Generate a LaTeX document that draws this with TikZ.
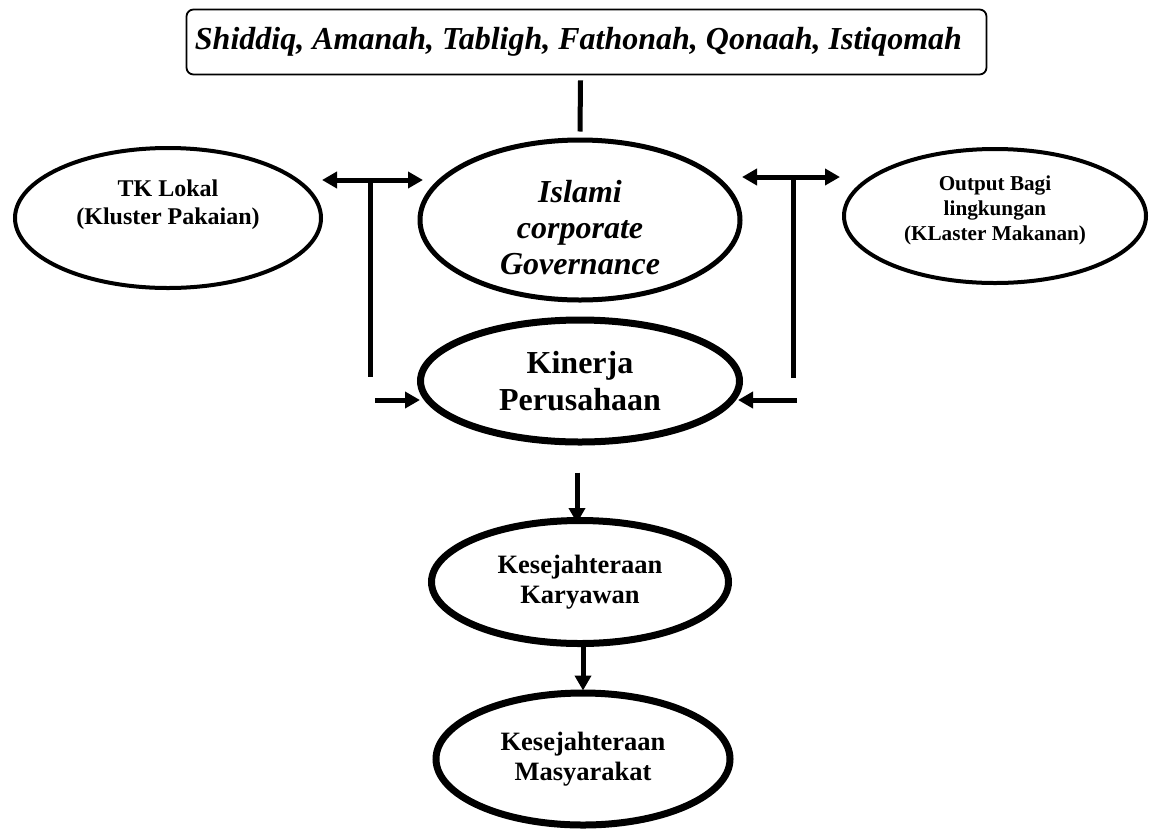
\documentclass[tikz,border=0pt]{standalone}
\usepackage{fontspec}
\setmainfont{Liberation Serif}
\usetikzlibrary{arrows.meta,shapes.geometric,calc}
\tikzset{
  oval/.style={ellipse, draw, inner sep=0pt, align=center, font=\bfseries},
  arr/.style={line width=5pt, -{Triangle[length=15pt,width=16pt]}},
  darr/.style={line width=5pt, {Triangle[length=15pt,width=16pt]}-{Triangle[length=15pt,width=16pt]}},
  bar/.style={line width=5pt},
  big/.style={font=\fontsize{32}{37}\selectfont\bfseries},
  mid/.style={font=\fontsize{26.5}{30.5}\selectfont\bfseries},
}
\begin{document}
\begin{tikzpicture}[x=1pt,y=-1pt]
\useasboundingbox (0,0) rectangle (1151,831);
% top box
\node[draw, rounded corners=7pt, line width=1.8pt, minimum width=800pt, minimum height=65pt,
      inner sep=0pt, font=\fontsize{32}{37}\selectfont\bfseries\itshape]
      (values) at (586.5,42) {Shiddiq, Amanah, Tabligh, Fathonah, Qonaah, Istiqomah\hspace*{16pt}};
% ellipses
\node[oval, line width=5pt, minimum width=320pt, minimum height=160pt,
      label={[name=islami-text, align=center, font=\fontsize{32}{36}\selectfont\bfseries\itshape, yshift=-8pt]center:Islami\\corporate\\Governance}]
      (islami) at (580,220) {};
\node[oval, big, line width=7pt, minimum width=319pt, minimum height=122pt]
      (kinerja) at (580,381) {Kinerja\\Perusahaan};
\node[oval, mid, line width=7pt, minimum width=297pt, minimum height=123pt]
      (karyawan) at (580,582) {Kesejahteraan\\Karyawan};
\node[oval, mid, line width=7pt, minimum width=294pt, minimum height=132pt]
      (masyarakat) at (583,759) {Kesejahteraan\\Masyarakat};
\node[oval, line width=4pt, minimum width=306pt, minimum height=140pt,
      label={[name=tk-text, align=center, font=\fontsize{24}{28}\selectfont\bfseries, yshift=13pt]center:TK Lokal\\(Kluster Pakaian)}]
      (tk) at (168,218) {};
\node[oval, line width=4pt, minimum width=302pt, minimum height=134pt,
      label={[name=out-text, align=center, font=\fontsize{21.2}{25}\selectfont\bfseries, yshift=6pt]center:Output Bagi\\lingkungan\\(KLaster Makanan)}]
      (output) at (995,216) {};
% connector coordinates
\coordinate (L1) at (322,180);
\coordinate (L2) at (423,180);
\coordinate (Lt) at (370,178);
\coordinate (Lb) at (370,377);
\coordinate (Ls) at (375,400);
\coordinate (Le) at (420,400);
\coordinate (R1) at (742,177);
\coordinate (R2) at (840,177);
\coordinate (Rt) at (793,175);
\coordinate (Rb) at (793,378);
\coordinate (Rs) at (797,400);
\coordinate (Re) at (738,400);
% connectors
\draw[bar] ($(values.south)+(-6,5)$) -- ($(islami.north)+(0,-6)$);
\draw[darr] (L1) -- (L2);
\draw[bar] (Lt) -- (Lb);
\draw[arr] (Ls) -- (Le);
\draw[darr] (R1) -- (R2);
\draw[bar] (Rt) -- (Rb);
\draw[arr] (Rs) -- (Re);
\draw[arr] ($(kinerja.south)+(-3,27)$) -- ($(karyawan.north)+(-3,6)$);
\draw[arr] ($(karyawan.south)+(3,0)$) -- ($(masyarakat.north)+(0,1)$);
\end{tikzpicture}
\end{document}
